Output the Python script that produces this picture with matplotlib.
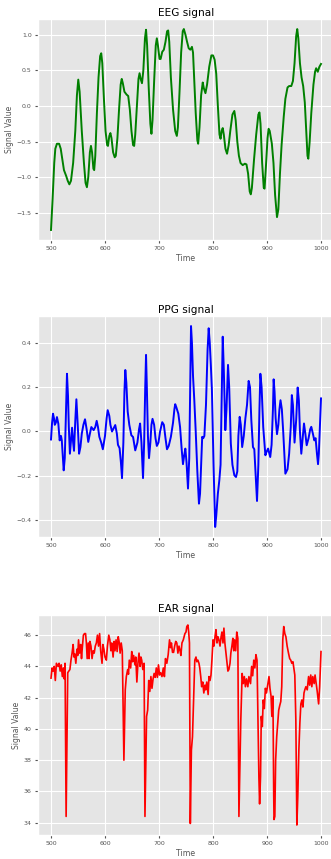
import matplotlib
matplotlib.use("Agg")
import matplotlib.pyplot as plt

plt.style.use("ggplot")

# EEG signal (time, value)
eeg_t = [500, 503, 506, 508, 511, 515, 518, 521, 524, 528, 531, 534, 537, 541, 545, 548, 550.5, 553, 557,
         561, 564, 566.5, 569, 572, 574, 576, 578.5, 580, 582, 585, 588, 591, 593, 595, 598, 601, 604,
         605.5, 608, 610, 612, 615, 618, 620, 623, 626, 629, 631, 633, 636, 640, 643, 646, 649, 652, 654,
         656, 659, 662, 664, 666, 668.5, 671, 674, 676, 678, 681, 684, 686, 688, 691, 694, 696, 698, 701,
         703, 706, 709, 712, 715, 717, 719, 722, 726, 730, 733, 735, 738, 741, 744, 746, 749, 752, 755,
         758, 761, 763, 765, 768, 771, 772.5, 775, 778, 781, 783, 786, 789, 793, 797, 800, 803, 806, 809,
         812, 814, 816, 818, 820, 823, 826, 829, 832, 836, 839.5, 842, 845, 848, 851, 855, 859, 862, 865,
         868, 870, 872, 876, 880, 884, 886, 888, 891, 894, 895.5, 898, 901, 903, 905, 909, 912, 915,
         918.5, 921, 924, 927, 931, 934, 938, 941, 945, 948, 951, 954, 956, 958, 961, 964, 967, 970, 973,
         975, 976.5, 979, 982, 986, 989, 991, 994, 997, 1000]
eeg_v = [-1.74, -1.30, -0.80, -0.60, -0.53, -0.53, -0.60, -0.75, -0.90, -0.98, -1.05, -1.10, -1.05, -0.80,
         -0.35, 0.15, 0.37, 0.20, -0.35, -0.80, -1.08, -1.14, -1.00, -0.65, -0.56, -0.65, -0.88, -0.90,
         -0.70, -0.10, 0.40, 0.70, 0.74, 0.60, 0.10, -0.35, -0.55, -0.56, -0.42, -0.38, -0.45, -0.65,
         -0.72, -0.70, -0.45, -0.05, 0.30, 0.38, 0.32, 0.20, 0.16, 0.14, -0.05, -0.35, -0.55, -0.56,
         -0.40, 0.00, 0.38, 0.46, 0.38, 0.32, 0.50, 0.95, 1.07, 0.85, 0.25, -0.25, -0.39, -0.20, 0.35,
         0.85, 0.95, 0.85, 0.66, 0.66, 0.76, 0.79, 0.90, 1.05, 1.06, 0.90, 0.40, -0.05, -0.35, -0.42,
         -0.30, 0.20, 0.75, 1.05, 1.08, 1.00, 0.90, 0.81, 0.79, 0.83, 0.75, 0.40, -0.10, -0.48, -0.53,
         -0.30, 0.15, 0.33, 0.25, 0.18, 0.30, 0.55, 0.71, 0.71, 0.65, 0.45, 0.00, -0.40, -0.46, -0.35,
         -0.31, -0.40, -0.60, -0.67, -0.55, -0.35, -0.12, -0.07, -0.20, -0.50, -0.70, -0.80, -0.83,
         -0.81, -0.82, -0.95, -1.20, -1.24, -1.15, -0.75, -0.40, -0.12, -0.09, -0.25, -0.80, -1.15,
         -1.16, -0.85, -0.45, -0.32, -0.35, -0.53, -0.80, -1.25, -1.56, -1.45, -0.95, -0.55, -0.15,
         0.10, 0.26, 0.28, 0.28, 0.35, 0.60, 0.98, 1.08, 0.95, 0.60, 0.40, 0.28, 0.05, -0.40, -0.70,
         -0.74, -0.50, -0.10, 0.30, 0.48, 0.53, 0.48, 0.55, 0.59]

# PPG signal
ppg_t = [500, 502, 503.7, 505.5, 507, 509, 511, 513.6, 516, 518.5, 520, 522, 523.5, 525.5, 528, 529.6,
         531.5, 533, 535, 537, 539, 541, 542.6, 545, 547, 549.5, 552, 554.5, 557, 560, 563, 566, 569,
         572, 574.7, 579, 582, 584.6, 587, 589.5, 593, 596, 600, 603, 605, 608, 610, 613, 619, 622, 624,
         627, 629.5, 631.5, 634, 636, 637.6, 639.5, 642, 645, 648.8, 652, 656, 660, 663, 665, 667.5,
         670.4, 672.5, 674.5, 676, 677.5, 679.5, 681.5, 684, 686, 688, 691, 693.5, 696, 699, 702, 706,
         709, 712, 714.8, 718, 722, 726, 728.5, 730, 732, 735.8, 739, 742, 744.4, 746.5, 748.8, 751,
         753.7, 756, 758, 759.3, 761, 763, 765.4, 768, 771, 774, 776, 778, 780, 782, 784, 787, 790, 792,
         794, 796, 798, 801, 804, 806, 809, 811.7, 814, 816, 818, 820, 822.8, 825, 827.8, 830, 833, 836,
         839.5, 842.6, 845, 847, 849.4, 851.5, 854, 857, 860, 863, 866, 868.5, 871, 874, 876.5, 879,
         881.5, 884, 886, 887.7, 890, 893, 897, 899.5, 902, 906, 908.5, 911, 912.3, 914, 916, 918.5,
         921, 923, 925, 927.5, 930, 934, 938, 941, 944, 946, 948, 951, 954, 956.8, 959, 961, 963.5,
         966, 968.5, 971, 973.5, 977, 980, 982, 985, 987.6, 990, 992.5, 994.5, 996, 998, 1000]
ppg_v = [-0.036, 0.04, 0.08, 0.06, 0.03, 0.04, 0.065, 0.035, -0.04, -0.02, -0.04, -0.12, -0.175, -0.12,
         0.12, 0.26, 0.16, 0.02, -0.10, -0.04, 0.017, -0.05, -0.087, 0.05, 0.145, 0.03, -0.10, -0.07,
         -0.01, 0.03, 0.055, 0.01, -0.047, -0.01, 0.02, 0.006, 0.02, 0.048, 0.02, -0.024, -0.05, -0.08,
         -0.02, 0.06, 0.096, 0.07, 0.03, 0.0, 0.029, -0.01, -0.06, -0.075, -0.14, -0.21, -0.05, 0.18,
         0.277, 0.22, 0.09, 0.03, -0.017, -0.025, -0.085, -0.05, 0.01, 0.036, -0.05, -0.21, -0.05, 0.20,
         0.345, 0.20, -0.02, -0.12, -0.05, 0.03, 0.057, 0.03, -0.03, -0.065, -0.05, 0.0, 0.042, 0.03,
         -0.03, -0.08, -0.065, -0.024, 0.04, 0.10, 0.123, 0.11, 0.08, 0.02, -0.08, -0.147, -0.11, -0.077,
         -0.14, -0.257, -0.12, 0.25, 0.475, 0.40, 0.25, 0.14, 0.00, -0.18, -0.325, -0.28, -0.15, -0.024,
         -0.03, -0.02, 0.12, 0.37, 0.465, 0.40, 0.30, 0.186, -0.15, -0.43, -0.38, -0.28, -0.22, -0.15,
         0.15, 0.427, 0.28, 0.006, 0.10, 0.30, 0.20, -0.054, -0.15, -0.197, -0.205, -0.18, -0.02, 0.066,
         0.03, -0.07, -0.02, 0.06, 0.12, 0.228, 0.20, 0.05, -0.07, -0.08, -0.20, -0.313, -0.15, 0.10,
         0.26, 0.20, 0.02, -0.107, -0.09, -0.077, -0.115, -0.06, 0.10, 0.235, 0.18, 0.06, -0.012, 0.03,
         0.10, 0.141, 0.10, 0.0, -0.19, -0.17, -0.10, 0.02, 0.164, 0.12, -0.05, 0.05, 0.198, 0.14,
         0.0, -0.10, -0.03, 0.036, -0.01, -0.062, -0.03, 0.01, 0.021, -0.01, -0.04, -0.03, -0.10,
         -0.147, -0.10, 0.03, 0.149]

# EAR signal
ear_t = [500, 502, 504, 506, 508, 510, 513, 515, 517, 519, 521, 523, 524.5, 526, 528, 531, 533, 535, 537,
         539, 541, 542.5, 544, 546, 548, 549.5, 551, 553, 555, 556.5, 558, 560, 562, 564, 565.5, 567,
         569, 570.5, 572, 574, 576, 578, 580, 582, 584, 586, 588, 590, 592, 594.5, 596, 598, 600, 602.5,
         604.5, 607, 609, 611, 612.5, 615, 617, 618.5, 620.5, 622.5, 624.5, 626.5, 628, 630, 632, 635,
         637.5, 639.5, 642, 643.5, 645, 647.5, 649.5, 651, 653, 655.5, 657, 659, 661, 663, 665, 666.5,
         668, 670, 672.4, 674, 677, 679, 681, 683, 685, 687, 689, 691, 693, 695, 697, 699, 701, 703,
         705.5, 708, 710, 712, 714.5, 717, 719.5, 721.5, 723, 725, 727, 729, 731, 733, 735, 737, 739,
         740.5, 742.5, 745, 746.5, 748, 750, 751.5, 753.5, 755, 756.4, 758, 760, 762, 764.5, 766.3,
         768.5, 770, 772, 774, 775.5, 777.3, 779, 781, 783, 785, 786.5, 788.5, 791, 792.5, 794.5, 796.3,
         798, 800, 801.8, 803.7, 805.5, 807.4, 809, 811, 813, 815, 816.6, 818.5, 820.2, 822, 824, 826,
         827.6, 829.4, 831.5, 833, 835, 836.8, 838.5, 840, 842, 844, 846, 848, 851.5, 854, 856, 858,
         860, 862, 864.5, 866.5, 869.5, 871.5, 873.5, 875.5, 877.5, 879.5, 881.5, 883, 885, 886.3, 888,
         889.4, 891.3, 893, 895, 897, 899, 901.2, 903.7, 905.5, 907.5, 909, 911, 912.4, 913, 914.5, 916,
         918, 920, 921.7, 923.6, 925.5, 927.3, 929.2, 931, 933, 935, 937.3, 939.8, 942, 944, 946, 948,
         949.7, 951.5, 953.4, 955.3, 957, 959, 960.9, 962.7, 964.6, 966.5, 968.5, 970, 972, 974.5, 977,
         979, 981, 983, 984.8, 987.3, 989, 990.7, 993, 995.6, 997.5, 1000]
ear_v = [43.25, 43.9, 43.7, 44.0, 43.1, 44.2, 44.0, 44.2, 43.7, 44.1, 43.35, 43.9, 43.2, 44.2, 34.4, 43.6,
         43.7, 43.8, 44.4, 44.85, 45.4, 44.6, 44.8, 44.2, 45.1, 44.7, 45.7, 44.85, 45.4, 44.5, 45.2, 46.0,
         46.1, 46.1, 45.5, 44.5, 45.5, 44.5, 45.6, 45.3, 44.5, 45.0, 44.85, 45.3, 45.5, 46.0, 45.3, 46.1,
         45.0, 44.2, 45.4, 45.1, 44.6, 44.4, 45.3, 46.0, 45.7, 45.0, 45.5, 44.6, 45.6, 45.0, 45.7, 44.95,
         45.9, 45.5, 44.85, 45.5, 45.0, 38.0, 42.5, 43.35, 43.8, 43.5, 44.4, 43.9, 44.95, 44.3, 44.7,
         44.1, 44.6, 43.0, 44.2, 44.85, 44.0, 44.6, 44.4, 43.8, 44.2, 34.4, 40.8, 41.2, 43.1, 42.4, 43.35,
         42.6, 43.2, 43.55, 43.3, 43.9, 43.3, 44.1, 43.45, 43.6, 43.35, 43.9, 43.35, 44.5, 44.2, 44.75,
         45.7, 45.2, 45.5, 44.9, 44.9, 45.3, 45.6, 45.5, 44.85, 45.3, 45.0, 44.7, 45.5, 45.7, 45.9, 46.1,
         46.2, 46.55, 46.65, 46.2, 45.5, 33.95, 38.65, 39.5, 42.3, 44.4, 44.6, 44.3, 44.4, 44.2, 43.9,
         43.35, 42.7, 43.0, 42.3, 42.8, 42.5, 43.0, 42.2, 43.35, 43.1, 43.45, 44.4, 45.7, 45.3, 45.9,
         46.35, 45.5, 45.9, 45.7, 45.3, 45.9, 46.2, 45.5, 46.45, 45.5, 44.85, 44.2, 43.7, 43.8, 44.2,
         44.85, 45.3, 45.8, 45.0, 45.7, 45.0, 46.2, 45.8, 34.4, 40.6, 43.55, 42.9, 43.35, 42.7, 43.2,
         42.7, 43.35, 42.9, 44.0, 43.4, 44.4, 43.9, 44.75, 44.4, 41.2, 36.9, 35.2, 36.95, 40.8, 40.15,
         41.85, 41.3, 42.6, 42.3, 42.8, 43.35, 42.6, 42.1, 40.8, 42.1, 35.9, 34.2, 34.4, 38.0, 39.5, 40.4,
         41.2, 41.5, 41.75, 42.7, 45.7, 46.55, 46.1, 45.9, 45.3, 44.85, 44.5, 44.4, 44.2, 44.3, 43.9,
         43.45, 40.6, 33.85, 35.65, 38.65, 40.4, 41.6, 41.85, 41.4, 42.3, 42.5, 42.7, 42.5, 43.35, 42.8,
         43.45, 42.7, 43.35, 42.9, 43.45, 43.0, 42.4, 41.6, 42.7, 44.95]

titles = ["EEG signal", "PPG signal", "EAR signal"]
colors = ["green", "blue", "red"]
widths = [1.4, 1.4, 1.2]
series = [(eeg_t, eeg_v), (ppg_t, ppg_v), (ear_t, ear_v)]
yticks = [[-1.5, -1.0, -0.5, 0.0, 0.5, 1.0], [-0.4, -0.2, 0.0, 0.2, 0.4], [34, 36, 38, 40, 42, 44, 46]]

W, H = 331, 859
fig = plt.figure(figsize=(W / 100, H / 100), dpi=100)

# axes boxes in pixels: (top, bottom)
boxes = [(19, 240), (316, 537), (615, 835)]
left, right = 37.5, 334.5

for (top, bot), (t, v), title, c, lw, yt in zip(boxes, series, titles, colors, widths, yticks):
    ax = fig.add_axes([left / W, 1 - bot / H, (right - left) / W, (bot - top) / H])
    ax.plot(t, v, color=c, lw=lw)
    ax.set_xlim(475, 1025)
    ax.set_xticks([500, 600, 700, 800, 900, 1000])
    ax.set_yticks(yt)
    ax.set_title(title, fontsize=7.6, pad=2.5)
    ax.set_xlabel("Time", fontsize=5.6, labelpad=2)
    ax.set_ylabel("Signal Value", fontsize=5.5, labelpad=2)
    ax.tick_params(labelsize=4.5, length=2, pad=2.2, colors="#555555")
    ax.grid(True, color="white", lw=0.8)

fig.savefig("out.png", dpi=100)
